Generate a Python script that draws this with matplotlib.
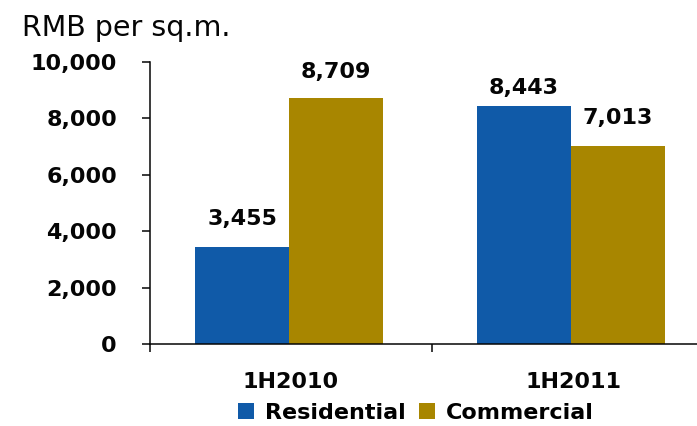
import matplotlib
matplotlib.use("Agg")
import matplotlib.pyplot as plt
import numpy as np

# Average selling price by half-year
periods = ["1H2010", "1H2011"]
residential = [3455, 8443]
commercial = [8709, 7013]
series_names = ["Residential", "Commercial"]
y_ticks = [0, 2000, 4000, 6000, 8000, 10000]

BLUE = "#105AA8"
GOLD = "#A88600"
INK = "#050505"
FS = 16

plt.rcParams["font.family"] = ["DejaVu Sans"]

fig = plt.figure(figsize=(6.97, 4.26), dpi=100)
ax = fig.add_axes([150 / 697, 82 / 426, 547 / 697, 282 / 426])

x = np.arange(len(periods)) - 0.007
w = 0.333
bars_r = ax.bar(x - w / 2, residential, w, color=BLUE, label=series_names[0], zorder=2)
bars_c = ax.bar(x + w / 2, commercial, w, color=GOLD, label=series_names[1], zorder=2)

# value labels above each bar (offset in points)
label_offsets = [[13, 6], [12, 13]]
for bars, offs in zip([bars_r, bars_c], label_offsets):
    for b, off in zip(bars, offs):
        v = b.get_height()
        ax.annotate(f"{v:,.0f}", (b.get_x() + b.get_width() / 2, v),
                    xytext=(0, off), textcoords="offset points",
                    ha="center", va="bottom", fontsize=FS,
                    fontweight="bold", color=INK)

ax.set_xlim(-0.5, -0.5 + 547 / 282)
ax.set_ylim(0, 10000)

ax.set_yticks(y_ticks)
ax.set_yticklabels([f"{t:,}" for t in y_ticks], fontsize=FS,
                   fontweight="bold", color=INK)
ax.tick_params(axis="y", direction="out", length=5.8, width=1.1,
               pad=18, color=INK)

ax.set_xticks(np.arange(len(periods)))
ax.set_xticklabels(periods, fontsize=FS, fontweight="bold", color=INK)
ax.tick_params(axis="x", which="major", length=0, pad=20)
ax.set_xticks(np.arange(len(periods)) - 0.5, minor=True)
ax.tick_params(axis="x", which="minor", direction="out", length=6,
               width=1.1, color=INK)

for side in ["top", "right"]:
    ax.spines[side].set_visible(False)
for side in ["left", "bottom"]:
    ax.spines[side].set_linewidth(1.1)
    ax.spines[side].set_color(INK)
    ax.spines[side].set_zorder(3)

fig.text(22 / 697, 1 - 36 / 426, "RMB per sq.m.", fontsize=20.5,
         ha="left", va="baseline", color=INK)

fig.legend(handles=[bars_r, bars_c], labels=series_names, ncol=2,
           loc="center", bbox_to_anchor=(416 / 697, 1 - 413 / 426),
           frameon=False, prop={"size": FS, "weight": "bold"},
           handlelength=0.72, handleheight=0.72, handletextpad=0.5,
           columnspacing=0.6, borderpad=0, borderaxespad=0)

fig.savefig("out.png", dpi=100)
